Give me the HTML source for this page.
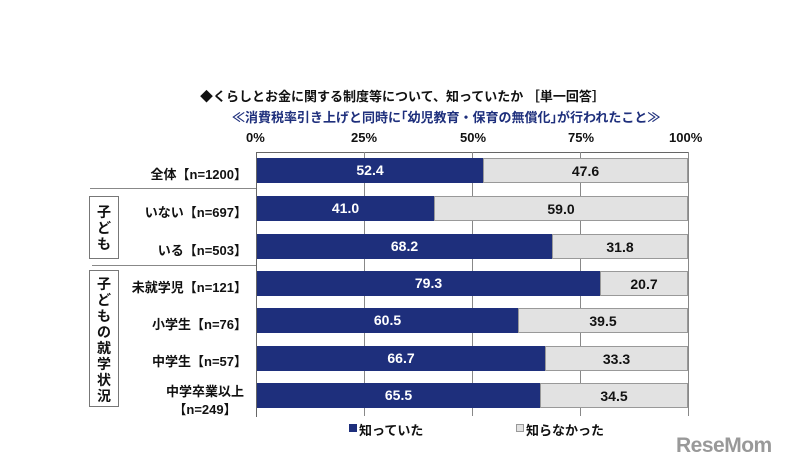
<!DOCTYPE html>
<html><head><meta charset="utf-8"><style>
body{margin:0;width:787px;height:470px;background:#fff;position:relative;overflow:hidden;font-family:"Liberation Sans","Noto Sans CJK JP",sans-serif;font-weight:bold;color:#111}
.a{position:absolute;white-space:nowrap}
.bar{position:absolute;height:25px}
.k{background:#1e2f7c;color:#fff}
.u{background:#e2e2e2;border:1px solid #999;box-sizing:border-box;color:#111}
.bar span{position:absolute;width:100%;text-align:center;top:4px;font-size:14px}
.lab{position:absolute;left:0;width:247px;font-size:13px;text-align:right;white-space:nowrap}
.grid{position:absolute;top:152px;height:264px;width:1px;background:#888}
.box{position:absolute;border:1px solid #777;box-sizing:border-box;width:30px}
.vt{position:absolute;left:7px;width:14px;font-size:14px;line-height:16px;text-align:center;white-space:normal;word-break:break-all}
</style></head><body>
<div class="a" style="left:200px;top:86px;font-size:13px">◆くらしとお金に関する制度等について、知っていたか ［単一回答］</div>
<div class="a" style="left:232px;top:107px;font-size:13px;color:#1e2f7c">≪消費税率引き上げと同時に｢幼児教育・保育の無償化｣が行われたこと≫</div>
<div class="a" style="left:246px;top:130px;font-size:13px">0%</div>
<div class="a" style="left:351px;top:130px;font-size:13px">25%</div>
<div class="a" style="left:460px;top:130px;font-size:13px">50%</div>
<div class="a" style="left:568px;top:130px;font-size:13px">75%</div>
<div class="a" style="left:669px;top:130px;font-size:13px">100%</div>
<div class="a" style="left:256px;top:152px;width:432px;height:1px;background:#666"></div>
<div class="a" style="left:256px;top:152px;width:1px;height:265px;background:#666"></div>
<div class="grid" style="left:364px"></div><div class="grid" style="left:472px"></div><div class="grid" style="left:580px"></div><div class="grid" style="left:688px"></div>
<div class="a" style="left:90px;top:188px;width:166px;height:1px;background:#888"></div>
<div class="a" style="left:92px;top:265px;width:164px;height:1px;background:#888"></div>
<div class="box" style="left:89px;top:196px;height:63px"><div class="vt" style="top:7px">子ども</div></div>
<div class="box" style="left:89px;top:270px;height:137px"><div class="vt" style="top:5px">子どもの就学状況</div></div>

<div class="lab" style="top:164px">全体【n=1200】</div>
<div class="lab" style="top:202px">いない【n=697】</div>
<div class="lab" style="top:240px">いる【n=503】</div>
<div class="lab" style="top:277px">未就学児【n=121】</div>
<div class="lab" style="top:314px">小学生【n=76】</div>
<div class="lab" style="top:351px">中学生【n=57】</div>
<div class="lab" style="top:381px;left:160px;width:90px;text-align:center">中学卒業以上</div>
<div class="lab" style="top:399px;left:160px;width:90px;text-align:center">【n=249】</div>

<div class="bar k" style="left:257px;top:158px;width:226px"><span>52.4</span></div><div class="bar u" style="left:483px;top:158px;width:205px"><span>47.6</span></div>
<div class="bar k" style="left:257px;top:196px;width:177px"><span>41.0</span></div><div class="bar u" style="left:434px;top:196px;width:254px"><span>59.0</span></div>
<div class="bar k" style="left:257px;top:234px;width:295px"><span>68.2</span></div><div class="bar u" style="left:552px;top:234px;width:136px"><span>31.8</span></div>
<div class="bar k" style="left:257px;top:271px;width:343px"><span>79.3</span></div><div class="bar u" style="left:600px;top:271px;width:88px"><span>20.7</span></div>
<div class="bar k" style="left:257px;top:308px;width:261px"><span>60.5</span></div><div class="bar u" style="left:518px;top:308px;width:170px"><span>39.5</span></div>
<div class="bar k" style="left:257px;top:346px;width:288px"><span>66.7</span></div><div class="bar u" style="left:545px;top:346px;width:143px"><span>33.3</span></div>
<div class="bar k" style="left:257px;top:383px;width:283px"><span>65.5</span></div><div class="bar u" style="left:540px;top:383px;width:148px"><span>34.5</span></div>

<div class="a" style="left:349px;top:424px;width:8px;height:8px;background:#1e2f7c"></div>
<div class="a" style="left:359px;top:420px;font-size:13px">知っていた</div>
<div class="a" style="left:516px;top:424px;width:8px;height:8px;background:#e2e2e2;border:1px solid #999;box-sizing:border-box"></div>
<div class="a" style="left:526px;top:420px;font-size:13px">知らなかった</div>
<div class="a" style="left:676px;top:434px;font-size:21px;color:#999;letter-spacing:-0.5px">ReseMom</div>
</body></html>
